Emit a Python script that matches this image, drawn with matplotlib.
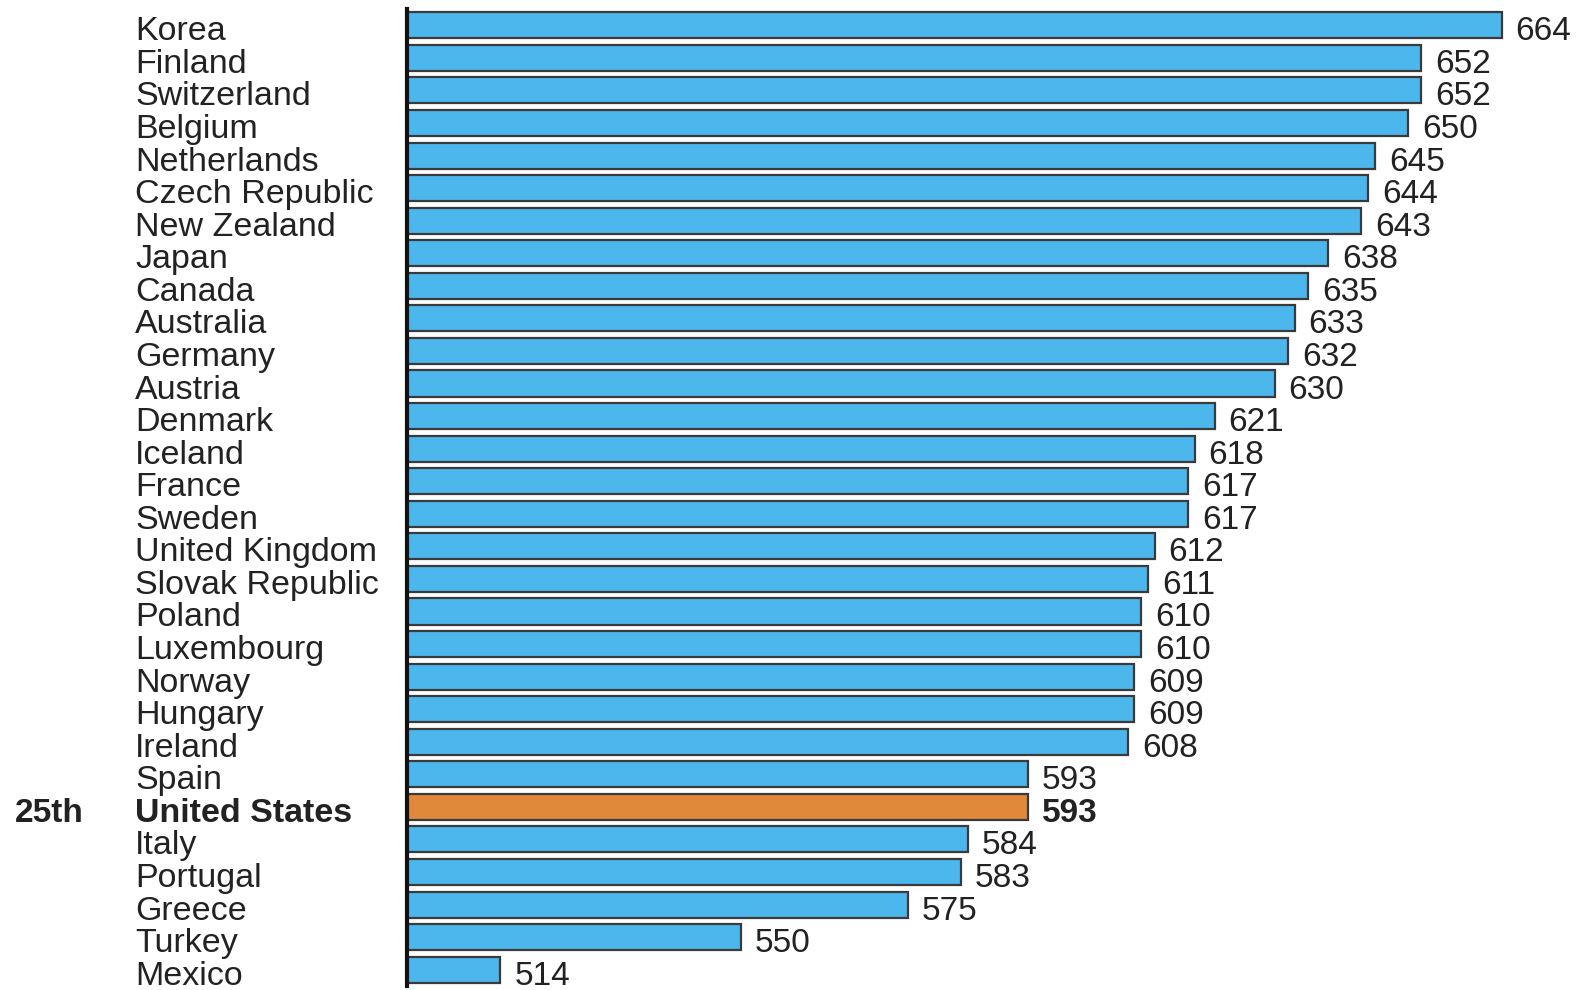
import matplotlib.pyplot as plt
import matplotlib.transforms as mtransforms

plt.rcParams['font.family'] = ['Liberation Sans', 'DejaVu Sans']

countries = ["Korea", "Finland", "Switzerland", "Belgium", "Netherlands",
             "Czech Republic", "New Zealand", "Japan", "Canada", "Australia",
             "Germany", "Austria", "Denmark", "Iceland", "France", "Sweden",
             "United Kingdom", "Slovak Republic", "Poland", "Luxembourg",
             "Norway", "Hungary", "Ireland", "Spain", "United States",
             "Italy", "Portugal", "Greece", "Turkey", "Mexico"]
scores = [664, 652, 652, 650, 645, 644, 643, 638, 635, 633, 632, 630, 621,
          618, 617, 617, 612, 611, 610, 610, 609, 609, 608, 593, 593, 584,
          583, 575, 550, 514]
highlight = "United States"
rank_label = "25th"

fig = plt.figure(figsize=(15.77, 9.9), dpi=100)
ax = fig.add_axes([407 / 1577, 1 - 986 / 990, 1 - 407 / 1577, (986 - 9) / 990])

base = 500
ypos = list(range(len(countries)))
colors = ['#E0893A' if c == highlight else '#4CB7EC' for c in countries]
ax.barh(ypos, [s - base for s in scores], left=base, height=0.8,
        color=colors, edgecolor='#3a3a3a', linewidth=1.6)

ax.set_xlim(base, 675.3)
ax.set_ylim(len(countries) - 0.5, -0.5)

# country names on the left, at fixed figure x
trans = mtransforms.blended_transform_factory(fig.transFigure, ax.transData)
for i, (c, s) in enumerate(zip(countries, scores)):
    bold = 'bold' if c == highlight else 'normal'
    ax.text(135 / 1577, i + 0.2, c, transform=trans, ha='left', va='center',
            fontsize=24.5, fontweight=bold, color='#222222', clip_on=False)
    ax.text(s + 2.1, i + 0.2, str(s), ha='left', va='center', fontsize=24,
            fontweight=bold, color='#222222', clip_on=False)
    if c == highlight:
        ax.text(15 / 1577, i + 0.2, rank_label, transform=trans, ha='left',
                va='center', fontsize=24, fontweight='bold', color='#222222')

for sp in ['top', 'right', 'bottom']:
    ax.spines[sp].set_visible(False)
ax.spines['left'].set_linewidth(3)
ax.spines['left'].set_color('#111111')
ax.set_xticks([])
ax.set_yticks([])

fig.savefig('out.png', dpi=100)
